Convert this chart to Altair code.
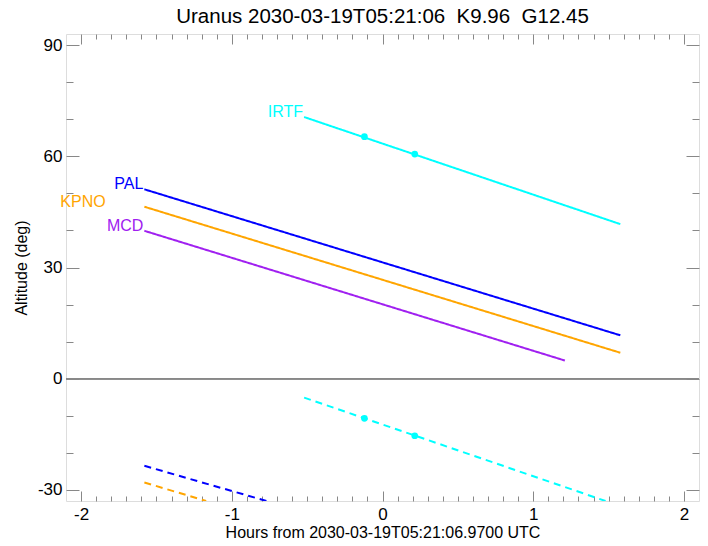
import altair as alt
import pandas as pd

stations = ["IRTF", "PAL", "KPNO", "MCD"]
station_colors = ["#00FFFF", "#0000FF", "#FFA500", "#A020F0"]

# above-horizon (solid) tracks: hours, altitude
irtf_up_h = [-0.52, 1.578]
irtf_up_alt = [70.6, 41.7]
pal_up_h = [-1.58, 1.578]
pal_up_alt = [51.1, 11.7]
kpno_up_h = [-1.58, 1.578]
kpno_up_alt = [46.4, 7.0]
mcd_up_h = [-1.58, 1.21]
mcd_up_alt = [39.9, 4.9]

# dashed tracks (visible part)
irtf_dn_h = [-0.52, 1.48]
irtf_dn_alt = [-5.1, -33.0]
pal_dn_h = [-1.58, -0.77]
pal_dn_alt = [-23.5, -33.0]
kpno_dn_h = [-1.58, -1.17]
kpno_dn_alt = [-28.0, -33.0]

# markers on IRTF tracks
dot_h = [-0.12, 0.214, -0.12, 0.214]
dot_alt = [65.3, 60.6, -10.7, -15.4]

# station labels
label_text = ["IRTF", "PAL", "KPNO", "MCD"]
label_h = [-0.52, -1.58, -1.83, -1.58]
label_alt = [70.6, 51.1, 46.4, 39.9]

x_tick_values = [round(-2.0 + 0.1 * i, 1) for i in range(41)]
y_tick_values = [-30, -20, -10, 0, 10, 20, 30, 40, 50, 60, 70, 80, 90]

rows = []
for st, kind, hs, als in [
    ("IRTF", "up", irtf_up_h, irtf_up_alt),
    ("PAL", "up", pal_up_h, pal_up_alt),
    ("KPNO", "up", kpno_up_h, kpno_up_alt),
    ("MCD", "up", mcd_up_h, mcd_up_alt),
    ("IRTF", "down", irtf_dn_h, irtf_dn_alt),
    ("PAL", "down", pal_dn_h, pal_dn_alt),
    ("KPNO", "down", kpno_dn_h, kpno_dn_alt),
]:
    for h, a in zip(hs, als):
        rows.append({"h": h, "alt": a, "station": st, "kind": kind, "seg": st + kind})
lines_df = pd.DataFrame(rows)
dots_df = pd.DataFrame({"h": dot_h, "alt": dot_alt, "station": ["IRTF"] * 4})
labels_df = pd.DataFrame({"h": label_h, "alt": label_alt, "station": label_text})

FONT = "Liberation Sans"
PW, PH = 633, 467

xscale = alt.Scale(domain=[-2.1, 2.1], nice=False, zero=False)
yscale = alt.Scale(domain=[-33, 93], nice=False, zero=False)
cscale = alt.Scale(domain=stations, range=station_colors)

xmajor = "abs(datum.value - round(datum.value)) < 0.001"
ymajor = "datum.value % 30 == 0"

xaxis = alt.Axis(
    orient="bottom", values=x_tick_values, tickCount=200, ticks=False, domain=False,
    grid=True, gridColor="#888888", gridWidth=1, gridOpacity=1,
    gridDash={"condition": {"test": xmajor, "value": [10, PH - 20, 10, 2000]},
              "value": [5, PH - 10, 5, 2000]},
    labelExpr="abs(datum.value - round(datum.value)) < 0.001 ? '' + round(datum.value) : ''",
    labelFont=FONT, labelFontSize=17, labelColor="black", labelPadding=5,
    labelFlush=False, labelOverlap=False,
    title="Hours from 2030-03-19T05:21:06.9700 UTC", titleFont=FONT,
    titleFontSize=16, titleFontWeight="normal", titleColor="black", titlePadding=2,
)
yaxis = alt.Axis(
    orient="left", values=y_tick_values, tickCount=200, ticks=False, domain=False,
    grid=True, gridColor="#888888", gridWidth=1, gridOpacity=1,
    gridDash={"condition": {"test": ymajor, "value": [13, PW - 26, 13, 2000]},
              "value": [7, PW - 14, 7, 2000]},
    labelExpr="datum.value % 30 == 0 ? '' + datum.value : ''",
    labelFont=FONT, labelFontSize=17, labelColor="black", labelPadding=4,
    labelFlush=False, labelOverlap=False,
    title="Altitude (deg)", titleFont=FONT, titleFontSize=16,
    titleFontWeight="normal", titleColor="black", titlePadding=8,
)

base_lines = alt.Chart(lines_df).mark_line(strokeWidth=2, clip=True).encode(
    x=alt.X("h:Q", scale=xscale, axis=xaxis),
    y=alt.Y("alt:Q", scale=yscale, axis=yaxis),
    color=alt.Color("station:N", scale=cscale, legend=None),
    strokeDash=alt.StrokeDash("kind:N", scale=alt.Scale(domain=["up", "down"], range=[[1, 0], [7, 5]]), legend=None),
    detail="seg:N",
)

zero_line = alt.Chart(lines_df).mark_rule(color="#888888", strokeWidth=1).encode(
    y=alt.datum(0, scale=yscale)
)

dots = alt.Chart(dots_df).mark_circle(size=45, opacity=1, clip=True).encode(
    x=alt.X("h:Q", scale=xscale),
    y=alt.Y("alt:Q", scale=yscale),
    color=alt.Color("station:N", scale=cscale, legend=None),
)

labels = alt.Chart(labels_df).mark_text(
    align="right", baseline="alphabetic", font=FONT, fontSize=16, dx=-1
).encode(
    x=alt.X("h:Q", scale=xscale),
    y=alt.Y("alt:Q", scale=yscale),
    text="station:N",
    color=alt.Color("station:N", scale=cscale, legend=None),
)

chart = alt.layer(zero_line, base_lines, dots, labels).properties(
    width=PW, height=PH,
    title=alt.TitleParams(
        "Uranus 2030-03-19T05:21:06 \u00a0K9.96 \u00a0G12.45",
        font=FONT, fontSize=20.5, fontWeight="normal", color="black",
        anchor="middle", frame="group", offset=7,
    ),
    autosize=alt.AutoSizeParams(type="none"),
    padding={"left": 58, "top": 26, "right": 1, "bottom": 37},
).configure_view(stroke="#888888", strokeWidth=1).configure(background="white")

chart.save("out.html", embed_options={"renderer": "svg", "actions": False})
